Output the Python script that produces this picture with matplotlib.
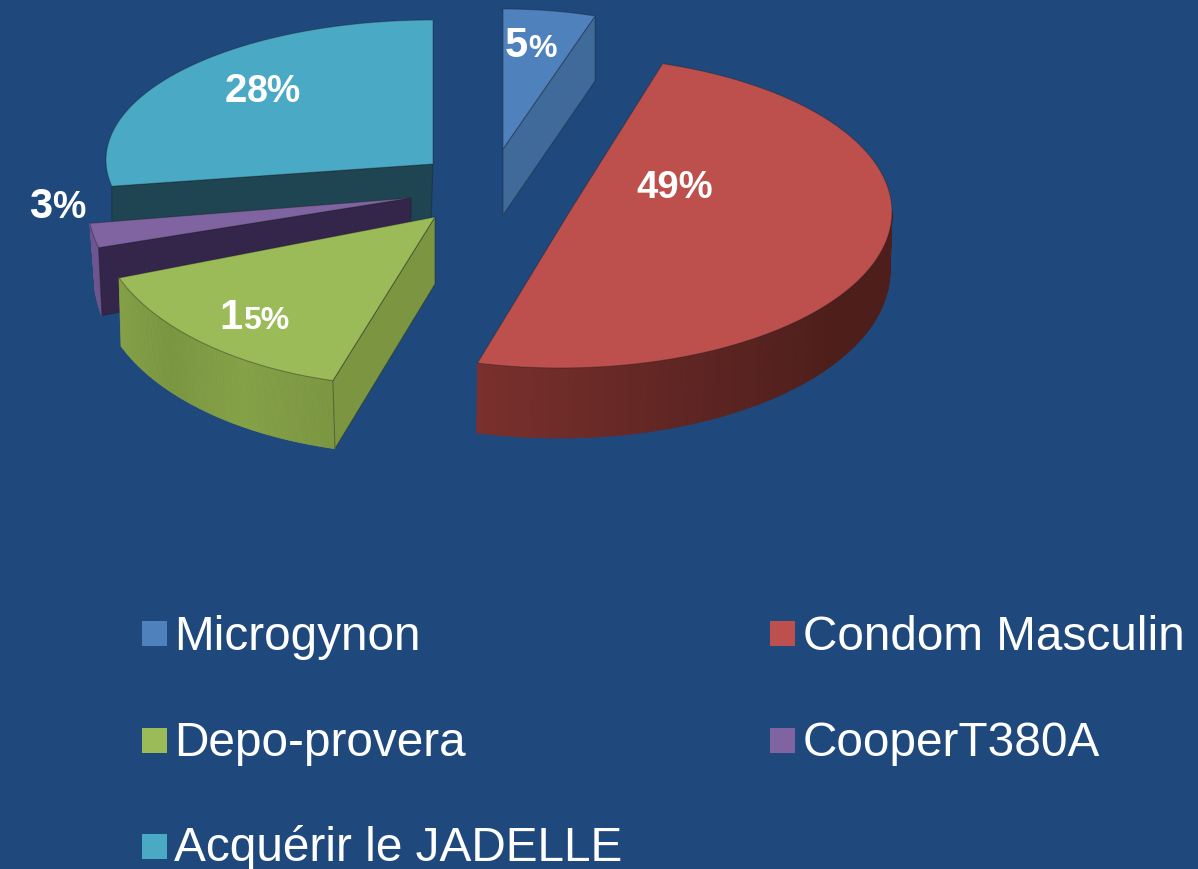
import matplotlib
matplotlib.use("Agg")
import matplotlib.pyplot as plt
from matplotlib.collections import PolyCollection
from matplotlib.colors import LinearSegmentedColormap
from matplotlib.patches import Polygon, Rectangle
import numpy as np

plt.rcParams['font.family'] = ['Liberation Sans', 'DejaVu Sans']

# Data
categories = ['Microgynon', 'Condom Masculin', 'Depo-provera', 'CooperT380A', 'Acquérir le JADELLE']
values = [5, 49, 15, 3, 28]
value_labels = ['5%', '49%', '15%', '3%', '28%']

# Colours
bg = '#1f497d'
top_colors = ['#4f81bd', '#bd504d', '#9bbb59', '#8064a2', '#4aa9c5']
cut_colors = ['#3f6a99', None, '#7b9540', '#33264a', '#1f4552']
wall_colors = [None,
               ['#4e1e1b', '#4e1e1b', '#60262300'[:7], '#7a302d'],
               ['#7c9741', '#86a247', '#7c9741', '#86a247'],
               ['#6d5590', '#6d5590'],
               None]

# Layout per slice, in pixels: top ellipse (cx, cy, rx, ry), bottom ellipse, apex top, apex bottom
top_ell = [(503, 153, 298, 143), (560, 213, 332, 156), (411, 216, 314, 171), (251, 199, 164, 135), (433, 161, 327, 140)]
bot_ell = [(503, 218, 298, 143), (559, 272, 331, 167), (413, 284, 314, 171), (220, 267, 127, 135), (433, 222, 327, 140)]
apex_top = [(503, 150), (570, 212), (435, 218), (411, 199), (433, 165)]
apex_bot = [(503, 216), (570, 280), (435, 285), (411, 255), (431, 225)]
cut_side = ['end', None, 'start', 'start', 'start']  # which radial face is seen


def arc(ell, a0, a1, n=120):
    cx, cy, rx, ry = ell
    t = np.radians(np.linspace(a0, a1, n))
    return np.column_stack([cx + rx*np.sin(t), cy - ry*np.cos(t)])


fig = plt.figure(figsize=(11.98, 8.70), dpi=100, facecolor=bg)
ax = fig.add_axes([0, 0, 1, 1])
ax.set_xlim(0, 1198)
ax.set_ylim(870, 0)
ax.axis('off')

ends = np.cumsum(values)/np.sum(values)*360
starts = np.concatenate([[0], ends[:-1]])

edge = (0.1, 0.1, 0.1, 0.35)

# back to front
for i in [4, 3, 2, 1, 0]:
    a0, a1 = starts[i], ends[i]
    # outer wall, only the part facing us
    if wall_colors[i] is not None:
        w0, w1 = max(a0, 90), min(a1, 270)
        ang = np.linspace(w0, w1, 100)
        up = arc(top_ell[i], w0, w1, 100)
        dn = arc(bot_ell[i], w0, w1, 100)
        quads = [[up[j], up[j+1], dn[j+1], dn[j]] for j in range(99)]
        cmap = LinearSegmentedColormap.from_list('w', wall_colors[i])
        pc = PolyCollection(quads, array=(ang[:-1]-w0)/(w1-w0), cmap=cmap, edgecolors='face', linewidths=0.6, zorder=i*0+10+(4-i)*3)
        ax.add_collection(pc)
    # radial cut face
    if cut_side[i] is not None:
        a = a0 if cut_side[i] == 'start' else a1
        p_up = arc(top_ell[i], a, a, 1)[0]
        p_dn = arc(bot_ell[i], a, a, 1)[0]
        ax.add_patch(Polygon([apex_top[i], p_up, p_dn, apex_bot[i]], closed=True, fc=cut_colors[i], ec=edge, lw=0.8, zorder=11+(4-i)*3))
    # top face
    pts = np.vstack([[apex_top[i]], arc(top_ell[i], a0, a1)])
    ax.add_patch(Polygon(pts, closed=True, fc=top_colors[i], ec=edge, lw=0.8, zorder=12+(4-i)*3))

# Percent labels, first digit is larger in the source
label_x = [528, 636, 243, 52, 247]
label_y = [57, 198, 329, 218, 102]
head_len = [1, 0, 1, 1, 1]
head_size = [30, 27.5, 30, 30, 29]
tail_size = [23, 27.5, 23, 27, 27]
for i, lab in enumerate(value_labels):
    n = head_len[i]
    if n:
        ax.text(label_x[i], label_y[i], lab[:n], ha='right', va='baseline', color='white', fontweight='bold', fontsize=head_size[i], zorder=40)
    ax.text(label_x[i], label_y[i], lab[n:], ha='left', va='baseline', color='white', fontweight='bold', fontsize=tail_size[i], zorder=40)

# Legend
sq_x = [142, 770, 142, 770, 142]
sq_y = [622, 622, 729, 729, 835]
txt_x = [174, 803, 174, 803, 174]
txt_y = [650, 650, 756, 756, 861]
for i, name in enumerate(categories):
    ax.add_patch(Rectangle((sq_x[i], sq_y[i]), 25, 25, fc=top_colors[i], ec='none', zorder=40))
    ax.text(txt_x[i], txt_y[i], name, ha='left', va='baseline', color='white', fontsize=34.4, zorder=40)

fig.savefig('out.png', dpi=100, facecolor=bg)
